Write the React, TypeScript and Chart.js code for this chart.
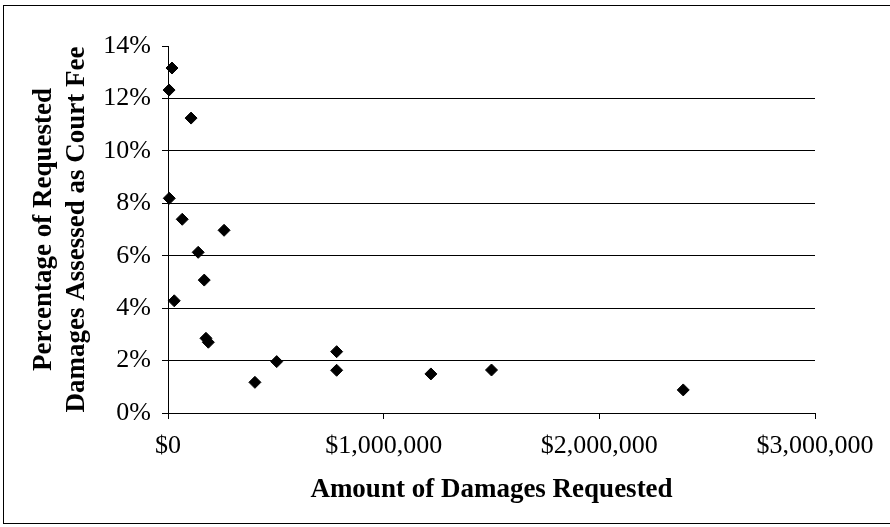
import React, { useEffect, useRef } from "react";
import { Chart, registerables } from "chart.js";

Chart.register(...registerables);

// Amount of damages requested (US$)
const damagesRequested = [
  18500, 5000, 107000, 6000, 66000, 260000, 140000, 168000, 29000,
  176000, 187000, 403000, 504000, 782000, 782000, 1219000, 1500000, 2389000,
];
// Percentage of requested damages assessed as court fee (%)
const feePercent = [
  13.16, 12.32, 11.25, 8.19, 7.39, 6.97, 6.13, 5.07, 4.28,
  2.85, 2.7, 1.17, 1.96, 2.34, 1.63, 1.49, 1.64, 0.88,
];
const xTickLabels = ["$0", "$1,000,000", "$2,000,000", "$3,000,000"];
const yTickLabels = ["0%", "2%", "4%", "6%", "8%", "10%", "12%", "14%"];
const xTitle = "Amount of Damages Requested";
const yTitle = ["Percentage of Requested", "Damages Assessed as Court Fee"];

const FONT = "'Liberation Serif', 'Times New Roman', serif";

export default function App() {
  const canvasRef = useRef<HTMLCanvasElement | null>(null);

  useEffect(() => {
    document.body.style.margin = "0";
    const canvas = canvasRef.current;
    if (!canvas) return;
    const points = damagesRequested.map((x, i) => ({ x, y: feePercent[i] }));
    const chart = new Chart(canvas, {
      type: "scatter",
      data: {
        datasets: [
          {
            data: points,
            pointStyle: "rectRot",
            pointRadius: 6,
            pointBorderWidth: 1,
            backgroundColor: "#000",
            borderColor: "#000",
            clip: false,
          },
        ],
      },
      options: {
        animation: false,
        responsive: false,
        devicePixelRatio: 1,
        layout: { padding: { left: 0, top: 46, right: 75, bottom: 0 } },
        plugins: {
          legend: { display: false },
          tooltip: { enabled: false },
        },
        scales: {
          x: {
            type: "linear",
            min: 0,
            max: 3000000,
            afterFit: (scale: any) => {
              scale.height = 114;
            },
            ticks: {
              stepSize: 1000000,
              padding: 12,
              color: "#000",
              font: { family: FONT, size: 26 },
              callback: (v: any) => xTickLabels[Math.round(Number(v) / 1000000)] ?? "",
              maxRotation: 0,
            },
            grid: {
              drawOnChartArea: false,
              drawTicks: true,
              tickLength: 6,
              tickColor: "#000",
              color: "#000",
            },
            border: { color: "#000", width: 1 },
            title: {
              display: true,
              text: xTitle,
              color: "#000",
              font: { family: FONT, size: 27, weight: "bold", lineHeight: 1.2 },
              padding: { top: 0, bottom: 21 },
            },
          },
          y: {
            type: "linear",
            min: 0,
            max: 14,
            afterFit: (scale: any) => {
              scale.width = 168;
            },
            ticks: {
              stepSize: 2,
              padding: 11,
              color: "#000",
              font: { family: FONT, size: 26 },
              callback: (v: any) => yTickLabels[Math.round(Number(v) / 2)] ?? "",
            },
            grid: {
              drawTicks: true,
              tickLength: 6,
              tickColor: "#000",
              lineWidth: 1,
              color: (ctx: any) =>
                ctx.tick && (ctx.tick.value === 14 || ctx.tick.value === 0)
                  ? "rgba(0,0,0,0)"
                  : "#000",
            },
            border: { color: "#000", width: 1 },
            title: {
              display: true,
              text: yTitle,
              color: "#000",
              font: { family: FONT, size: 27, weight: "bold", lineHeight: 1.22 },
              padding: { top: 28, bottom: 0 },
            },
          },
        },
      },
    } as any);
    return () => chart.destroy();
  }, []);

  return (
    <div
      style={{
        position: "relative",
        width: 890,
        height: 527,
        overflow: "hidden",
        background: "#fff",
      }}
    >
      <canvas ref={canvasRef} width={890} height={527} style={{ display: "block" }} />
      <div
        style={{
          position: "absolute",
          left: 3,
          top: 5,
          width: 900,
          height: 519,
          border: "1px solid #000",
          boxSizing: "border-box",
          pointerEvents: "none",
        }}
      />
    </div>
  );
}
